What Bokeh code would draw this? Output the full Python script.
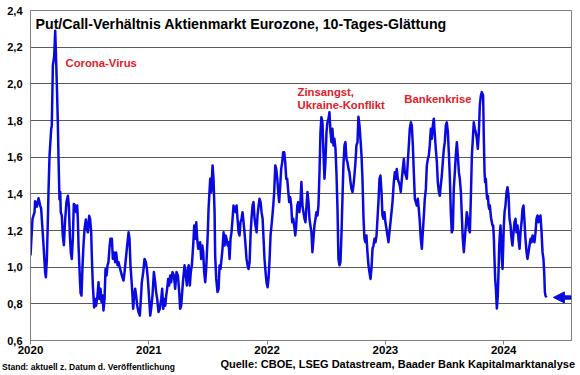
from bokeh.plotting import figure
from bokeh.models import (FixedTicker, CustomJSTickFormatter, Label, Arrow,
                          NormalHead, Range1d, Div)
from bokeh.layouts import column
from bokeh.embed import file_html
from bokeh.resources import INLINE

# ---- data ----
dates_2020a = [2020.000, 2020.017, 2020.034, 2020.039, 2020.054, 2020.068, 2020.082, 2020.090, 2020.096, 2020.110,
               2020.124, 2020.130, 2020.138, 2020.147, 2020.152, 2020.161, 2020.175, 2020.180, 2020.189, 2020.200,
               2020.209, 2020.217, 2020.223, 2020.231, 2020.237, 2020.245, 2020.251, 2020.256, 2020.265, 2020.273,
               2020.282, 2020.293, 2020.304, 2020.316, 2020.324, 2020.333, 2020.341, 2020.349, 2020.358, 2020.366,
               2020.378, 2020.386, 2020.395, 2020.400, 2020.406, 2020.414, 2020.423, 2020.431, 2020.440, 2020.448,
               2020.457, 2020.468, 2020.476, 2020.485, 2020.496, 2020.504, 2020.513, 2020.519, 2020.527, 2020.538,
               2020.547, 2020.555, 2020.566, 2020.575, 2020.583, 2020.592, 2020.600, 2020.609, 2020.617, 2020.626,
               2020.634, 2020.643, 2020.651, 2020.659, 2020.668, 2020.676, 2020.688, 2020.696, 2020.705, 2020.716,
               2020.724, 2020.736, 2020.744]
ratio_2020a = [1.064, 1.264, 1.30, 1.36, 1.33, 1.376, 1.336, 1.32, 1.26, 1.12,
               0.97, 0.945, 1.04, 1.26, 1.41, 1.61, 1.755, 1.77, 2.10, 2.15,
               2.29, 2.12, 1.99, 1.79, 1.59, 1.37, 1.41, 1.30, 1.28, 1.17,
               1.12, 1.26, 1.355, 1.39, 1.336, 1.17, 1.08, 1.045, 1.155, 1.345,
               1.336, 1.30, 1.336, 1.264, 1.12, 0.99, 0.86, 0.845, 1.01, 1.12,
               1.21, 1.26, 1.21, 1.19, 1.28, 1.264, 1.19, 1.046, 0.90, 0.78,
               0.827, 0.79, 0.845, 0.918, 0.827, 0.882, 0.81, 0.845, 0.764, 0.827,
               0.99, 0.955, 1.01, 1.027, 1.11, 1.155, 1.155, 1.046, 1.08, 1.027,
               1.08, 1.01, 1.027]

dates_2020b = [2020.758, 2020.772, 2020.786, 2020.795, 2020.806, 2020.817, 2020.829, 2020.837, 2020.845, 2020.857,
               2020.868, 2020.876, 2020.885, 2020.893, 2020.902, 2020.913, 2020.924, 2020.933, 2020.941, 2020.953,
               2020.964, 2020.975, 2020.984, 2020.992,
               2021.003, 2021.012, 2021.020, 2021.031, 2021.043, 2021.054,
               2021.062, 2021.071, 2021.082, 2021.093, 2021.105, 2021.113, 2021.122, 2021.130, 2021.139, 2021.147,
               2021.155, 2021.164, 2021.172, 2021.181, 2021.189, 2021.200, 2021.212, 2021.223, 2021.234, 2021.246,
               2021.257, 2021.265, 2021.274, 2021.282, 2021.291, 2021.302, 2021.310, 2021.322, 2021.330, 2021.338,
               2021.347, 2021.355, 2021.364, 2021.375, 2021.384, 2021.392, 2021.401, 2021.409, 2021.418, 2021.426,
               2021.434, 2021.443, 2021.452, 2021.460, 2021.468, 2021.477, 2021.485, 2021.494, 2021.499]
ratio_2020b = [0.99, 0.955, 0.927, 0.973, 1.045, 1.118, 1.19, 1.155, 1.01, 0.90,
               0.773, 0.845, 0.882, 0.845, 0.79, 0.755, 0.736, 0.827, 0.918, 0.973,
               1.045, 1.027, 0.99, 0.936,
               0.827, 0.736, 0.773, 0.845, 0.973, 0.918,
               0.864, 0.827, 0.755, 0.773, 0.827, 0.882, 0.773, 0.827, 0.79, 0.845,
               0.882, 0.936, 0.90, 0.955, 0.918, 0.973, 0.955, 0.882, 0.973, 0.955,
               0.864, 0.773, 0.79, 0.864, 0.936, 1.01, 0.973, 0.90, 0.99, 1.01,
               0.90, 0.973, 1.01, 1.118, 1.227, 1.155, 1.245, 1.155, 1.10, 1.118,
               1.136, 1.045, 1.118, 1.082, 0.973, 0.918, 0.99, 1.118, 1.19]

dates_2021 = [2021.505, 2021.519, 2021.528, 2021.539, 2021.547, 2021.556, 2021.561, 2021.570, 2021.581, 2021.590,
              2021.598, 2021.606, 2021.615, 2021.623, 2021.632, 2021.640, 2021.649, 2021.657, 2021.666, 2021.674,
              2021.683, 2021.691, 2021.699, 2021.708, 2021.716, 2021.725, 2021.733, 2021.742, 2021.750, 2021.759,
              2021.767, 2021.775, 2021.784, 2021.792, 2021.801, 2021.809, 2021.818, 2021.826, 2021.835, 2021.843,
              2021.852, 2021.860, 2021.868, 2021.877, 2021.885, 2021.894, 2021.902, 2021.911, 2021.919, 2021.928,
              2021.936, 2021.945, 2021.953, 2021.962, 2021.970, 2021.978, 2021.987, 2021.995, 2022.004, 2022.012,
              2022.021, 2022.029, 2022.040, 2022.052, 2022.060, 2022.069, 2022.077, 2022.086, 2022.094, 2022.102,
              2022.111, 2022.119, 2022.128, 2022.136, 2022.145, 2022.153, 2022.162, 2022.170, 2022.179, 2022.187,
              2022.195, 2022.204, 2022.212, 2022.221, 2022.229, 2022.238, 2022.246, 2022.255, 2022.263]
ratio_2021 = [1.318, 1.482, 1.41, 1.555, 1.482, 1.30, 1.064, 0.936, 0.864, 0.882,
              1.009, 0.99, 1.045, 1.10, 1.19, 1.118, 1.173, 1.155, 1.118, 1.136,
              1.045, 1.155, 1.19, 1.264, 1.336, 1.318, 1.30, 1.336, 1.264, 1.19,
              1.173, 1.245, 1.264, 1.30, 1.245, 1.19, 1.118, 1.045, 1.01, 0.99,
              1.027, 1.173, 1.264, 1.336, 1.355, 1.264, 1.227, 1.19, 1.282, 1.336,
              1.373, 1.355, 1.30, 1.264, 1.155, 1.045, 0.973, 0.918, 0.89, 0.936,
              1.045, 1.173, 1.245, 1.336, 1.41, 1.555, 1.536, 1.482, 1.41, 1.355,
              1.445, 1.536, 1.573, 1.627, 1.627, 1.573, 1.482, 1.482, 1.41, 1.355,
              1.382, 1.336, 1.245, 1.264, 1.227, 1.173, 1.227, 1.336, 1.355]

dates_2022 = [2022.273, 2022.282, 2022.290, 2022.299, 2022.307, 2022.316, 2022.324, 2022.333, 2022.341, 2022.350,
              2022.358, 2022.366, 2022.375, 2022.383, 2022.392, 2022.400, 2022.409, 2022.417, 2022.426, 2022.434,
              2022.443, 2022.451, 2022.459, 2022.468, 2022.476, 2022.485, 2022.493, 2022.502, 2022.510, 2022.519,
              2022.527, 2022.536, 2022.544, 2022.552, 2022.561, 2022.569, 2022.578, 2022.586, 2022.595, 2022.603,
              2022.612, 2022.620, 2022.629, 2022.637, 2022.645, 2022.654, 2022.662, 2022.671, 2022.679, 2022.688,
              2022.696, 2022.705, 2022.713, 2022.722, 2022.730, 2022.738, 2022.747, 2022.755, 2022.764, 2022.772,
              2022.781, 2022.789, 2022.798, 2022.806, 2022.815, 2022.823, 2022.831, 2022.840, 2022.848, 2022.857,
              2022.865, 2022.874, 2022.882, 2022.891, 2022.899, 2022.908, 2022.916, 2022.925, 2022.933, 2022.941,
              2022.950, 2022.958, 2022.967, 2022.975, 2022.984, 2022.992, 2023.000, 2023.009, 2023.017, 2023.026]
ratio_2022 = [1.30, 1.355, 1.464, 1.336, 1.30, 1.264, 1.245, 1.336, 1.41, 1.355,
              1.264, 1.227, 1.19, 1.082, 1.155, 1.227, 1.264, 1.30, 1.282, 1.336,
              1.518, 1.736, 1.818, 1.79, 1.627, 1.482, 1.573, 1.736, 1.79, 1.81,
              1.845, 1.736, 1.682, 1.755, 1.664, 1.70, 1.645, 1.518, 1.318, 1.045,
              1.01, 1.027, 1.19, 1.373, 1.555, 1.664, 1.682, 1.59, 1.573, 1.536,
              1.518, 1.464, 1.427, 1.41, 1.445, 1.50, 1.573, 1.664, 1.682, 1.82,
              1.773, 1.70, 1.61, 1.482, 1.264, 1.155, 1.136, 1.173, 1.082, 1.01,
              0.973, 0.936, 0.99, 1.10, 1.118, 1.155, 1.136, 1.173, 1.264, 1.355,
              1.482, 1.50, 1.41, 1.282, 1.264, 1.30, 1.245, 1.21, 1.173, 1.136]

dates_2023 = [2023.037, 2023.049, 2023.060, 2023.071, 2023.080, 2023.088, 2023.096, 2023.105, 2023.113, 2023.122,
              2023.130, 2023.139, 2023.147, 2023.156, 2023.164, 2023.173, 2023.181, 2023.189, 2023.198, 2023.206,
              2023.215, 2023.223, 2023.232, 2023.240, 2023.249, 2023.257, 2023.266, 2023.274, 2023.282, 2023.291,
              2023.299, 2023.308, 2023.316, 2023.325, 2023.333, 2023.342, 2023.350, 2023.359, 2023.367, 2023.375,
              2023.384, 2023.392, 2023.401, 2023.409, 2023.418, 2023.426, 2023.435, 2023.443, 2023.452, 2023.460,
              2023.468, 2023.477, 2023.485, 2023.494, 2023.502, 2023.511, 2023.519, 2023.528, 2023.536, 2023.545,
              2023.553, 2023.561, 2023.570, 2023.578, 2023.587, 2023.595, 2023.604, 2023.612, 2023.621, 2023.629,
              2023.638, 2023.646, 2023.654, 2023.663, 2023.671, 2023.680, 2023.688, 2023.697, 2023.705, 2023.714,
              2023.722, 2023.731, 2023.739, 2023.747, 2023.756, 2023.764, 2023.773, 2023.781, 2023.790, 2023.798,
              2023.807, 2023.815]
ratio_2023 = [1.209, 1.282, 1.355, 1.464, 1.518, 1.482, 1.536, 1.482, 1.464, 1.445,
              1.41, 1.482, 1.536, 1.59, 1.518, 1.50, 1.482, 1.573, 1.664, 1.755,
              1.79, 1.773, 1.664, 1.518, 1.373, 1.355, 1.336, 1.373, 1.318, 1.245,
              1.155, 1.10, 1.19, 1.282, 1.373, 1.427, 1.555, 1.59, 1.61, 1.664,
              1.755, 1.70, 1.773, 1.81, 1.718, 1.645, 1.573, 1.464, 1.41, 1.39,
              1.445, 1.50, 1.573, 1.645, 1.682, 1.773, 1.79, 1.736, 1.627, 1.482,
              1.30, 1.19, 1.209, 1.427, 1.518, 1.61, 1.682, 1.61, 1.518, 1.482,
              1.41, 1.282, 1.155, 1.082, 1.155, 1.227, 1.30, 1.264, 1.209, 1.19,
              1.373, 1.61, 1.70, 1.79, 1.755, 1.736, 1.70, 1.645, 1.736, 1.882,
              1.936, 1.955]

dates_2024 = [2023.826, 2023.832, 2023.838, 2023.843, 2023.849, 2023.855, 2023.860, 2023.866, 2023.872, 2023.877,
              2023.883, 2023.888, 2023.894, 2023.900, 2023.905, 2023.911, 2023.917, 2023.922, 2023.928, 2023.934,
              2023.942, 2023.950, 2023.956, 2023.962, 2023.967, 2023.973, 2023.979, 2023.984, 2023.990, 2023.996,
              2024.001, 2024.007, 2024.015, 2024.024, 2024.032, 2024.041, 2024.049, 2024.058, 2024.066, 2024.074,
              2024.083, 2024.091, 2024.100, 2024.108, 2024.117, 2024.125, 2024.134, 2024.142, 2024.151, 2024.159,
              2024.167, 2024.176, 2024.184, 2024.193, 2024.201, 2024.210, 2024.218, 2024.227, 2024.235, 2024.244,
              2024.252, 2024.260, 2024.269, 2024.277, 2024.286, 2024.294, 2024.303, 2024.311, 2024.320, 2024.328,
              2024.336, 2024.342, 2024.348, 2024.353, 2024.362]
ratio_2024 = [1.936, 1.70, 1.518, 1.464, 1.482, 1.41, 1.373, 1.39, 1.336, 1.318,
              1.336, 1.30, 1.264, 1.245, 1.227, 1.227, 1.155, 1.045, 0.936, 0.882,
              0.775, 0.845, 0.973, 1.118, 1.173, 1.227, 1.155, 1.045, 0.99, 1.118,
              1.227, 1.30, 1.336, 1.41, 1.436, 1.39, 1.264, 1.227, 1.155, 1.118,
              1.19, 1.245, 1.264, 1.19, 1.227, 1.155, 1.10, 1.19, 1.245, 1.318,
              1.336, 1.245, 1.155, 1.082, 1.045, 1.082, 1.118, 1.155, 1.136, 1.173,
              1.155, 1.136, 1.19, 1.264, 1.282, 1.245, 1.264, 1.282, 1.19, 1.082,
              1.045, 0.973, 0.864, 0.845, 0.835]

year_ticks = [2020, 2021, 2022, 2023, 2024]
y_ticks = [0.6, 0.8, 1.0, 1.2, 1.4, 1.6, 1.8, 2.0, 2.2, 2.4]

title_text = "Put/Call-Verhältnis Aktienmarkt Eurozone, 10-Tages-Glättung"
events = ["Corona-Virus", "Zinsangst,", "Ukraine-Konflikt", "Bankenkrise"]
event_x = [2020.296, 2022.257, 2022.257, 2023.160]
event_y = [2.112, 1.955, 1.884, 1.920]
source_text = "Quelle: CBOE, LSEG Datastream, Baader Bank Kapitalmarktanalyse"
stand_text = "Stand: aktuell z. Datum d. Veröffentlichung"

dates = dates_2020a + dates_2020b + dates_2021 + dates_2022 + dates_2023 + dates_2024
ratio = ratio_2020a + ratio_2020b + ratio_2021 + ratio_2022 + ratio_2023 + ratio_2024

FONT = "Liberation Sans"
BLUE = "#0A0AE0"
RED = "#E0202A"

p = figure(width=580, height=359, output_backend="svg", toolbar_location=None,
           x_range=Range1d(2020, 2024.573), y_range=Range1d(0.6, 2.4),
           min_border_left=30, min_border_right=9, min_border_top=10, min_border_bottom=19)
p.background_fill_color = "white"
p.border_fill_color = "white"
p.outline_line_color = "#808080"

p.line(dates, ratio, line_color=BLUE, line_width=2.5, line_join="round")

# axes
p.xaxis.ticker = FixedTicker(ticks=year_ticks)
p.xaxis.formatter = CustomJSTickFormatter(code="return tick.toFixed(0);")
p.yaxis.ticker = FixedTicker(ticks=y_ticks)
p.yaxis.formatter = CustomJSTickFormatter(code="return tick.toFixed(1).replace('.', ',');")
for ax in (p.xaxis[0], p.yaxis[0]):
    ax.axis_line_color = "#808080"
    ax.major_tick_line_color = "#808080"
    ax.minor_tick_line_color = None
    ax.major_label_text_font = FONT
    ax.major_label_text_font_style = "bold"
    ax.major_label_text_color = "black"
    ax.major_tick_in = 0
p.xaxis.major_label_text_font_size = "11.5px"
p.yaxis.major_label_text_font_size = "11px"
p.xaxis.major_tick_out = 4
p.xaxis.major_label_standoff = 1
p.yaxis.major_tick_out = 0
p.yaxis.major_label_standoff = 8

p.xgrid.visible = False
p.ygrid.ticker = FixedTicker(ticks=y_ticks)
p.ygrid.grid_line_color = "#5A5A5A"
p.ygrid.grid_line_width = 1

# title inside the frame
p.add_layout(Label(x=5, y=317, x_units="screen", y_units="screen", text=title_text,
                   text_font=FONT, text_font_size="14.2px", text_font_style="bold",
                   text_color="black", text_baseline="middle"))

# event annotations
for t, ex, ey in zip(events, event_x, event_y):
    p.add_layout(Label(x=ex, y=ey, text=t, text_font=FONT, text_font_size="11.3px",
                       text_font_style="bold", text_color=RED, text_baseline="middle"))

# arrow pointing to the latest value
p.add_layout(Arrow(end=NormalHead(size=11, fill_color=BLUE, line_color=BLUE),
                   x_start=2024.573, y_start=ratio[-1], x_end=2024.42, y_end=ratio[-1],
                   line_color=BLUE, line_width=4.5))

# footer line
footer_html = (
    '<div style="position:relative;width:580px;height:16px;overflow:visible;'
    'font-family:\'Liberation Sans\',Arial,sans-serif;font-weight:bold;color:#000;">'
    '<span style="position:absolute;left:2px;top:3px;font-size:8.5px;line-height:10px;'
    'white-space:nowrap;">' + stand_text + '</span>'
    '<span style="position:absolute;right:5px;top:-1px;font-size:11px;line-height:12px;'
    'white-space:nowrap;">' + source_text + '</span>'
    '</div>'
)
foot = Div(text=footer_html, width=580, height=16, margin=(0, 0, 0, 0))

layout = column(p, foot, spacing=0)
open("out.html", "w").write(file_html(layout, INLINE))
